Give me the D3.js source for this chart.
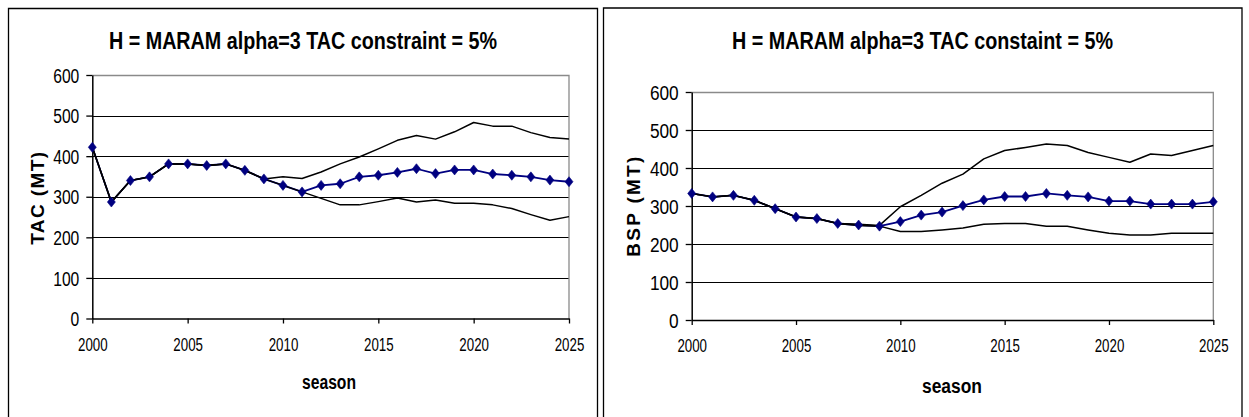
<!DOCTYPE html>
<html>
<head>
<meta charset="utf-8">
<script src="https://cdn.jsdelivr.net/npm/d3@7"></script>
<style>
  html, body { margin: 0; padding: 0; background: #fff; }
  svg { display: block; }
  text { font-family: "Liberation Sans", Arial, sans-serif; fill: #000; }
</style>
</head>
<body>
<svg id="chart" width="1249" height="417"></svg>
<script>
// ---- data ----
const seasons = [2000,2001,2002,2003,2004,2005,2006,2007,2008,2009,2010,2011,2012,2013,2014,2015,2016,2017,2018,2019,2020,2021,2022,2023,2024,2025];
const xTicks = [2000,2005,2010,2015,2020,2025];
const yTicks = [0,100,200,300,400,500,600];

const tacMedian = [422,287,340,349,381,381,377,381,365,344,328,312,328,332,349,353,360,369,357,366,366,356,353,349,341,337];
const tacUpper  = [422,287,340,349,381,381,377,381,365,344,349,345,361,381,398,418,439,451,442,460,483,474,474,458,446,442];
const tacLower  = [422,287,340,349,381,381,377,381,365,344,328,312,296,280,280,288,297,287,292,284,284,280,271,256,242,251];

const bspMedian = [333,324,328,315,293,271,267,254,250,247,259,276,284,301,316,325,325,333,328,324,313,313,305,305,305,311];
const bspUpper  = [333,324,328,315,293,271,267,254,252,249,298,328,360,384,424,446,454,463,459,441,428,415,437,433,446,459];
const bspLower  = [333,324,328,315,293,271,267,254,249,247,233,233,237,242,252,254,254,247,247,237,228,224,224,228,228,228];

const leftTitle = "H = MARAM alpha=3 TAC constraint = 5%";
const rightTitle = "H = MARAM alpha=3 TAC constaint = 5%";
const leftYLabel = "TAC (MT)";
const rightYLabel = "BSP (MT)";
const xLabel = "season";

// ---- drawing ----
const svg = d3.select("#chart");

const diamond = {
  draw(ctx, size) {
    const w = 4, h = 5;
    ctx.moveTo(0, -h); ctx.lineTo(w, 0); ctx.lineTo(0, h); ctx.lineTo(-w, 0); ctx.closePath();
  }
};

function panel(o) {
  const g = svg.append("g");
  g.append("path")
    .attr("d", `M${o.box[0]},430V${o.box[1]}H${o.box[2]}V430`)
    .attr("fill", "none").attr("stroke", "#000").attr("stroke-width", 1.3);

  const x = d3.scaleLinear().domain([2000, 2025]).range([o.l, o.r]);
  const y = d3.scaleLinear().domain([0, 600]).range([o.b, o.t]);

  g.append("g").selectAll("line").data(yTicks.filter(v => v > 0 && v < 600)).join("line")
    .attr("x1", o.l).attr("x2", o.r)
    .attr("y1", d => Math.round(y(d)) + 0.5).attr("y2", d => Math.round(y(d)) + 0.5)
    .attr("stroke", "#000").attr("stroke-width", 1);
  g.append("path")
    .attr("d", `M${o.l},${Math.round(o.t)+0.5}H${o.r}V${o.b}`)
    .attr("fill", "none").attr("stroke", "#8a8a8a").attr("stroke-width", 1.3);

  const ya = g.append("g").attr("transform", `translate(${o.l},0)`)
    .call(d3.axisLeft(y).tickValues(yTicks).tickSize(6).tickPadding(7).tickSizeOuter(0));
  ya.select(".domain").attr("stroke", "#000").attr("stroke-width", 1.5);
  ya.selectAll(".tick line").attr("stroke", "#000").attr("stroke-width", 1.3);
  ya.selectAll(".tick text")
    .attr("font-size", 20).attr("font-family", "Liberation Sans, Arial, sans-serif")
    .attr("dy", "0.36em")
    .attr("textLength", d => String(d).length * o.yDigitW)
    .attr("lengthAdjust", "spacingAndGlyphs");

  const xa = g.append("g").attr("transform", `translate(0,${o.b})`)
    .call(d3.axisBottom(x).tickValues(xTicks).tickFormat(d3.format("d")).tickSize(5).tickSizeOuter(0));
  xa.select(".domain").attr("stroke", "#000").attr("stroke-width", 1.5);
  xa.selectAll(".tick line").attr("stroke", "#000").attr("stroke-width", 1.3);
  xa.selectAll(".tick text")
    .attr("font-size", 18).attr("font-family", "Liberation Sans, Arial, sans-serif")
    .attr("dy", null).attr("y", o.xLabBase)
    .attr("textLength", d => String(d).length * 7.4)
    .attr("lengthAdjust", "spacingAndGlyphs");

  const line = d3.line().x((d, i) => x(seasons[i])).y(d => y(d));
  g.append("path").attr("d", line(o.median)).attr("fill", "none")
    .attr("stroke", "#000080").attr("stroke-width", 1.8).attr("stroke-linejoin", "round");
  [o.upper, o.lower].forEach(s => {
    g.append("path").attr("d", line(s)).attr("fill", "none")
      .attr("stroke", "#000").attr("stroke-width", 1.5).attr("stroke-linejoin", "round");
  });
  g.append("g").selectAll("path").data(o.median).join("path")
    .attr("transform", (d, i) => `translate(${x(seasons[i])},${y(d)})`)
    .attr("d", d3.symbol().type(diamond)())
    .attr("fill", "#000080").attr("stroke", "#000080").attr("stroke-width", 0.6);

  g.append("text").attr("x", o.titleX).attr("y", 48.5)
    .attr("text-anchor", "middle").attr("font-weight", "bold").attr("font-size", 23)
    .attr("textLength", o.titleW).attr("lengthAdjust", "spacingAndGlyphs")
    .text(o.title);

  g.append("text").attr("transform", `translate(${o.yLabX},${o.yLabY}) rotate(-90)`)
    .attr("text-anchor", "middle").attr("font-weight", "bold").attr("font-size", 19)
    .attr("textLength", o.yLabW).attr("lengthAdjust", "spacing")
    .text(o.yLabel);

  g.append("text").attr("x", o.seasonX).attr("y", o.seasonY)
    .attr("text-anchor", "middle").attr("font-weight", "bold").attr("font-size", 20)
    .attr("textLength", o.seasonW).attr("lengthAdjust", "spacingAndGlyphs")
    .text(xLabel);
}

panel({
  box: [8.5, 8.5, 597.5],
  l: 92.3, r: 569, t: 75, b: 318.5,
  median: tacMedian, upper: tacUpper, lower: tacLower,
  yDigitW: 8.7, xLabBase: 32,
  title: leftTitle, titleX: 303, titleW: 388,
  yLabel: leftYLabel, yLabX: 43.5, yLabY: 198.3, yLabW: 93,
  seasonX: 329, seasonY: 389, seasonW: 54
});

panel({
  box: [603.5, 8, 1242],
  l: 691.7, r: 1213.3, t: 92, b: 320,
  median: bspMedian, upper: bspUpper, lower: bspLower,
  yDigitW: 9.6, xLabBase: 32,
  title: rightTitle, titleX: 922.5, titleW: 381,
  yLabel: rightYLabel, yLabX: 640, yLabY: 206.7, yLabW: 100,
  seasonX: 952, seasonY: 392.5, seasonW: 60
});
</script>
</body>
</html>
